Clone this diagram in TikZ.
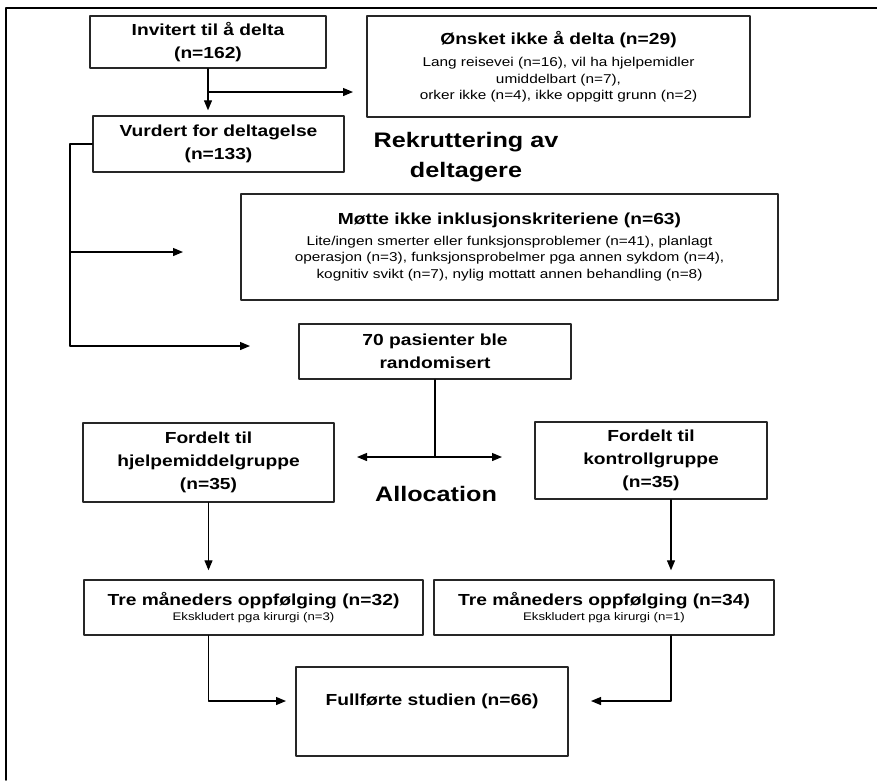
\documentclass[tikz,border=0pt]{standalone}
\usepackage{fontspec}
\setmainfont{Liberation Sans}[FakeStretch=1.2]
\usetikzlibrary{arrows.meta}
\newcommand\boxtitle[1]{{\bfseries\fontsize{16}{19}\selectfont #1}}

\begin{document}
\begin{tikzpicture}[x=1pt,y=-1pt,line width=1.2pt,line cap=round,line join=round,
  box/.style={draw=black!85,line width=1.4pt,inner sep=0pt,align=center,font=\bfseries\fontsize{16}{23}\selectfont},
  note/.style={box,font=\fontsize{12.8}{16.5}\selectfont},
  arr/.style={-{Triangle[length=10pt,width=8pt]}},
  head/.style={font=\bfseries\fontsize{21}{30}\selectfont,align=center}]
\useasboundingbox (0,0) rectangle (877,780);
% frame
\draw[line width=1.8pt] (6,780) |- (877,8);
% boxes
\node[box,minimum width=236,minimum height=52] (inv) at (208,42) {Invitert til å delta\\(n=162)};
\node[note,minimum width=383,minimum height=101] (ons) at (558.5,66.5)
  {\boxtitle{Ønsket ikke å delta (n=29)}\\[6pt]
   Lang reisevei (n=16), vil ha hjelpemidler\\
   umiddelbart (n=7),\\
   orker ikke (n=4), ikke oppgitt grunn (n=2)};
\node[box,minimum width=251,minimum height=56] (vur) at (218.5,144) {Vurdert for deltagelse\\(n=133)};
\node[head] (rek) at (466,157) {Rekruttering av\\deltagere};
\node[note,minimum width=537,minimum height=106] (mot) at (509.5,247)
  {\boxtitle{Møtte ikke inklusjonskriteriene (n=63)}\\[4pt]
   Lite/ingen smerter eller funksjonsproblemer (n=41), planlagt\\
   operasjon (n=3), funksjonsprobelmer pga annen sykdom (n=4),\\
   kognitiv svikt (n=7), nylig mottatt annen behandling (n=8)};
\node[box,minimum width=272,minimum height=55] (pas) at (435,351.5) {70 pasienter ble\\randomisert};
\node[box,minimum width=251,minimum height=79] (hje) at (208.5,462.5) {Fordelt til\\hjelpemiddelgruppe\\(n=35)};
\node[box,minimum width=232,minimum height=77] (kon) at (651,460.5) {Fordelt til\\kontrollgruppe\\(n=35)};
\node[head] (alloc) at (436,494) {Allocation};
\node[note,font=\fontsize{11}{15}\selectfont,minimum width=339,minimum height=55] (t3a) at (253.5,607.5)
  {\boxtitle{Tre måneders oppfølging (n=32)}\\Ekskludert pga kirurgi (n=3)};
\node[note,font=\fontsize{11}{15}\selectfont,minimum width=340,minimum height=55] (t3b) at (604,607.5)
  {\boxtitle{Tre måneders oppfølging (n=34)}\\Ekskludert pga kirurgi (n=1)};
\node[box,minimum width=272,minimum height=89,text depth=23pt] (ful) at (432,711.5) {Fullførte studien (n=66)};
% connectors
\coordinate (j1) at (208,92);
\coordinate (onsin) at (353,92);
\coordinate (bend) at (70,346);
\coordinate (pasin) at (250,346);
\coordinate (motin) at (183,252);
\coordinate (split) at (435,457);
\coordinate (hjein) at (357,457);
\coordinate (konin) at (502,457);
\coordinate (kdrop) at ([xshift=20pt]kon.south);
\coordinate (fl) at (286,701);
\coordinate (fr) at (591,701);
\draw[arr,shorten >=5pt] (inv.south) -- (inv.south |- vur.north);
\draw[arr] (j1) -- (onsin);
\draw (vur.west) -| (bend);
\draw[arr] (bend) -- (pasin);
\draw[arr] (bend |- motin) -- (motin);
\draw (pas.south) -- (split);
\draw[arr] (split) -- (hjein);
\draw[arr] (split) -- (konin);
\draw[arr,shorten >=9pt] (hje.south) -- (hje.south |- t3a.north);
\draw[arr,shorten >=9pt] (kdrop) -- (kdrop |- t3b.north);
\draw[arr] (t3a.south -| hje.south) |- (fl);
\draw[arr] (t3b.south -| kdrop) |- (fr);
\end{tikzpicture}
\end{document}
